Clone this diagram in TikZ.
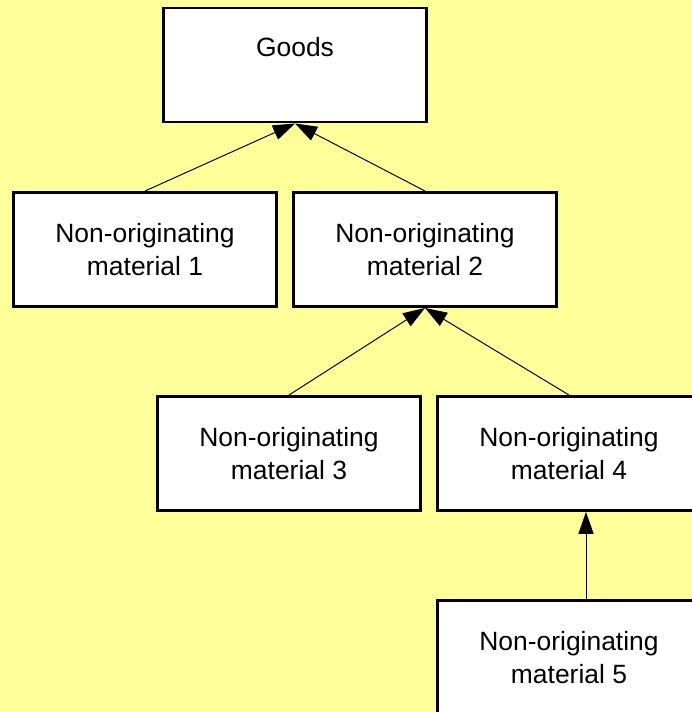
\documentclass[tikz,border=0pt]{standalone}
\usepackage{fontspec}
\setmainfont{Liberation Sans}
\usetikzlibrary{arrows.meta, positioning}
\definecolor{bgyellow}{RGB}{255,255,153}

\begin{document}
\begin{tikzpicture}[>={Triangle[length=0.55cm, width=0.38cm]}]

        % --- Définition des styles ---
        \tikzset{
            matbox/.style={draw=black, line width=2.1pt, fill=white, minimum width=6.575cm, minimum height=2.85cm, align=center, font=\fontsize{18.8}{23.5}\selectfont},
            link/.style={->, line width=0.7pt, black}
        }

        % --- Fond ---
        \fill[bgyellow] (0,0) rectangle (17.3,17.8);
        \useasboundingbox (0,0) rectangle (17.3,17.8);

        % --- Boîtes ---
        \node[matbox] (goods) at (7.375,16.175) {};
        \node[font=\fontsize{18.8}{23.5}\selectfont] (goodstxt) at (7.375,16.625) {Goods};

        \node[matbox] (m1) at (3.625,11.5625) {Non-originating\\material 1};
        \node[matbox] (m2) at (10.625,11.5625) {Non-originating\\material 2};
        \node[matbox] (m3) at (7.225,6.4625) {Non-originating\\material 3};
        \node[matbox] (m4) at (14.225,6.4625) {Non-originating\\material 4};
        \node[matbox] (m5) at (14.225,1.3625) {Non-originating\\material 5};

        % --- Flèches ---
        \draw[link] (m1.north) -- (goods.south);
        \draw[link] (m2.north) -- (goods.south);
        \draw[link] (m3.north) -- (m2.south);
        \draw[link] (m4.north) -- (m2.south);
        \draw[link] ([xshift=0.425cm]m5.north) -- ([xshift=0.425cm]m4.south);

\end{tikzpicture}
\end{document}
